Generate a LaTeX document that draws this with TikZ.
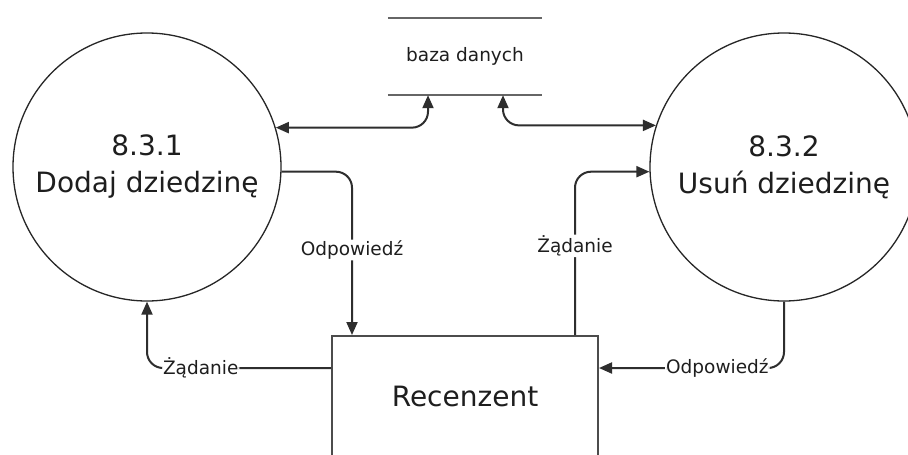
\documentclass[tikz,border=0pt]{standalone}
\usepackage{fontspec}
\setmainfont{DejaVu Sans}
\usetikzlibrary{arrows.meta,calc}
\definecolor{linec}{HTML}{2E2E2E}
\definecolor{textc}{HTML}{1E1E1E}
\begin{document}
\begin{tikzpicture}[x=1pt,y=-1pt,
  procnode/.style={circle,draw=black!85,line width=1.3pt,minimum size=268pt,inner sep=0pt,align=center,text=textc,font=\fontsize{28}{37}\selectfont},
  storenode/.style={minimum width=154pt,minimum height=77pt,inner sep=0pt,text=textc,font=\fontsize{18.5}{22}\selectfont},
  entnode/.style={rectangle,draw=black!70,line width=2pt,minimum width=266pt,minimum height=120pt,inner sep=0pt,text=textc,font=\fontsize{28}{32}\selectfont},
  flow/.style={draw=linec,line width=2pt,rounded corners=16pt,arrows={-{Triangle[length=13pt,width=11pt]}}},
  biflow/.style={draw=linec,line width=2pt,rounded corners=16pt,arrows={{Triangle[length=13pt,width=11pt]}-{Triangle[length=13pt,width=11pt]}}},
  flowlabel/.style={fill=white,inner sep=1pt,text=textc,font=\fontsize{18.5}{22}\selectfont}]
\clip (0,0) rectangle (908,455);
\fill[white] (0,0) rectangle (908,455);

\node[procnode] (p1) at (147,167) {8.3.1\\Dodaj dziedzinę};
\node[procnode] (p2) at (784,167) {8.3.2\\Usuń dziedzinę};
\node[storenode] (store) at (465,56.5) {baza danych};
\draw[draw=black!60,line width=2.2pt] (store.north west) -- (store.north east);
\draw[draw=black!60,line width=2.2pt] (store.south west) -- (store.south east);
\node[entnode] (rec) at (465,396) {Recenzent};

\coordinate (sL) at ($(store.south)+(-37,0)$);
\coordinate (sR) at ($(store.south)+(38,0)$);

\draw[biflow] (p1.17.8) -| (sL);
\draw[biflow] (sR) |- (p2.162.2);

\draw[flow] (p1.-2.6) -| ($(rec.north west)+(21,0)$)
  node[flowlabel,pos=0.74] {Odpowiedź};
\draw[flow] ($(rec.north west)+(0,33)$) -| (p1.south)
  node[flowlabel,pos=0.354] {Żądanie};
\draw[flow] ($(rec.north east)+(-24,0)$) |- (p2.182.6)
  node[flowlabel,pos=0.273] {Żądanie};
\draw[flow] (p2.south) |- ($(rec.north east)+(0,33)$)
  node[flowlabel,pos=0.68] {Odpowiedź};
\end{tikzpicture}
\end{document}
